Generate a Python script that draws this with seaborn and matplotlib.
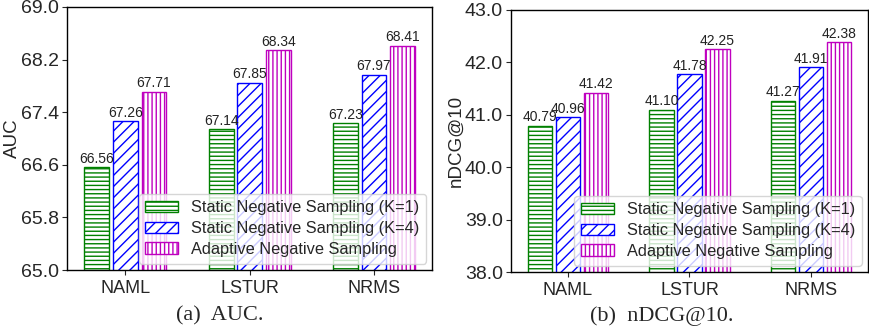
import matplotlib
matplotlib.use("Agg")
import matplotlib.pyplot as plt
import seaborn as sns
import pandas as pd
from matplotlib.patches import Patch

models = ["NAML", "LSTUR", "NRMS"]
methods = ["Static Negative Sampling (K=1)", "Static Negative Sampling (K=4)", "Adaptive Negative Sampling"]
auc_k1 = [66.56, 67.14, 67.23]
auc_k4 = [67.26, 67.85, 67.97]
auc_ada = [67.71, 68.34, 68.41]
ndcg_k1 = [40.79, 41.10, 41.27]
ndcg_k4 = [40.96, 41.78, 41.91]
ndcg_ada = [41.42, 42.25, 42.38]
auc_ticks = [65.0, 65.8, 66.6, 67.4, 68.2, 69.0]
ndcg_ticks = [38.0, 39.0, 40.0, 41.0, 42.0, 43.0]
colors = ["green", "blue", "m"]
hatches = ["----", "///", "||||"]

sns.set_style("ticks")
plt.rcParams["font.family"] = ["Liberation Sans", "DejaVu Sans"]
plt.rcParams["hatch.linewidth"] = 1.0

fig = plt.figure(figsize=(8.7, 3.33), dpi=100)
ax1 = fig.add_axes([0.077, 0.189, 0.420, 0.790])
ax2 = fig.add_axes([0.587, 0.183, 0.411, 0.787])


def make_df(a, b, c):
    rows = []
    for m, vals in zip(methods, [a, b, c]):
        for mod, v in zip(models, vals):
            rows.append({"model": mod, "method": m, "value": v})
    return pd.DataFrame(rows)


def draw(ax, df, ticks, ylabel, ylim):
    sns.barplot(data=df, x="model", y="value", hue="method", hue_order=methods,
                order=models, ax=ax, width=0.69, gap=0.13, palette=["white"] * 3,
                saturation=1, errorbar=None, legend=False)
    for i, cont in enumerate(ax.containers):
        for p in cont:
            p.set_facecolor("white")
            p.set_edgecolor(colors[i])
            p.set_hatch(hatches[i])
            p.set_linewidth(1.0)
        ax.bar_label(cont, fmt="%.2f", fontsize=10, padding=1, color="#222222")
    ax.set_ylim(*ylim)
    ax.set_yticks(ticks)
    ax.set_yticklabels([f"{t:.1f}" for t in ticks], fontsize=14)
    ax.set_xlim(-0.47, 2.47)
    ax.tick_params(axis="x", labelsize=13)
    ax.tick_params(axis="y", pad=2)
    ax.set_xlabel("")
    ax.set_ylabel(ylabel, fontsize=13.5, labelpad=0)
    for s in ax.spines.values():
        s.set_visible(True)
        s.set_color("black")
        s.set_linewidth(1.0)
    handles = [Patch(facecolor="white", edgecolor=colors[i], hatch=hatches[i], label=methods[i])
               for i in range(3)]
    ax.legend(handles=handles, loc="lower right", fontsize=11.8, handlelength=2.0,
              framealpha=0.8, edgecolor="#cccccc", borderaxespad=0.4,
              handletextpad=0.8, labelspacing=0.35, borderpad=0.4)


draw(ax1, make_df(auc_k1, auc_k4, auc_ada), auc_ticks, "AUC", (65.0, 69.0))
draw(ax2, make_df(ndcg_k1, ndcg_k4, ndcg_ada), ndcg_ticks, "nDCG@10", (38.0, 43.0))

fig.text(0.253, 0.052, "(a)  AUC.", ha="center", va="center", fontsize=16,
         family=["Liberation Serif", "DejaVu Serif"])
fig.text(0.761, 0.052, "(b)  nDCG@10.", ha="center", va="center", fontsize=16,
         family=["Liberation Serif", "DejaVu Serif"])

fig.savefig("out.png", dpi=100)
